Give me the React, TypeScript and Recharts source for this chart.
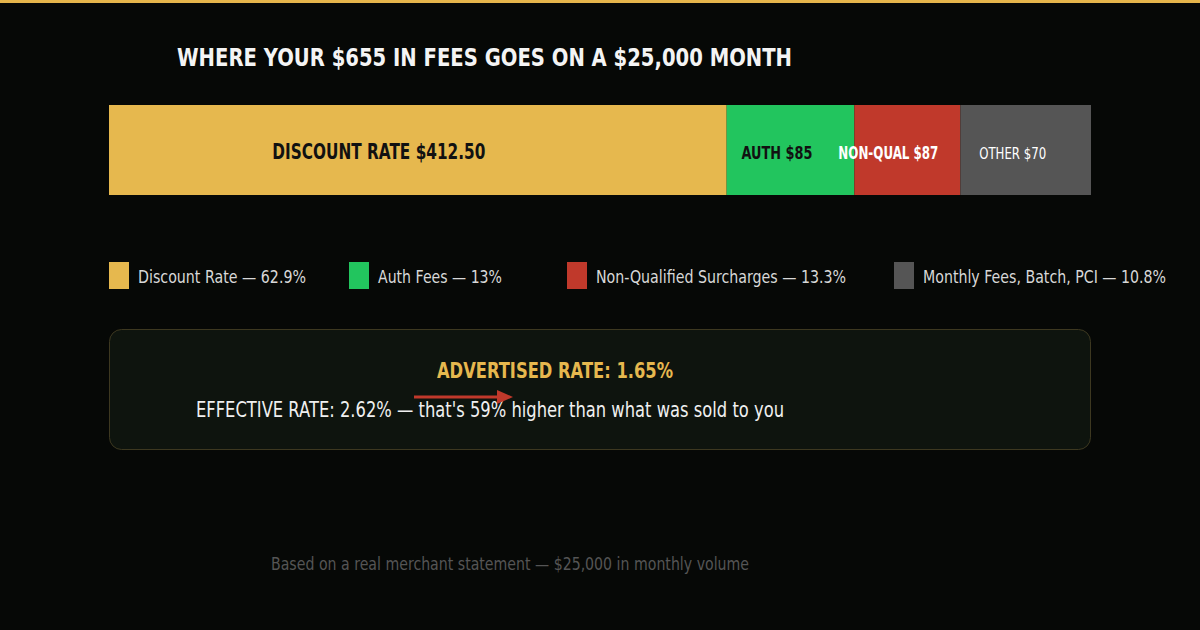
import { BarChart, Bar, XAxis, YAxis, LabelList } from 'recharts';

// fee breakdown, $ on a $25,000 month
const segments = ['discount', 'auth', 'nonQual', 'other'];
const segmentLabels = ['DISCOUNT RATE $412.50', 'AUTH $85', 'NON-QUAL $87', 'OTHER $70'];
// share of the bar each segment takes (percent)
const segmentShares = [62.9, 13, 10.8, 13.3];
const legendNames = [
  'Discount Rate — 62.9%',
  'Auth Fees — 13%',
  'Non-Qualified Surcharges — 13.3%',
  'Monthly Fees, Batch, PCI — 10.8%',
];

const COLORS = ['#e6b84e', '#22c55e', '#c0392b', '#555555'];
// no condensed face installed, so each text gets squeezed to its measured length
const LABEL_STYLE = [
  { fill: '#111', fontSize: 20.5, fontWeight: 700, dx: -39, len: 213 },
  { fill: '#111', fontSize: 18, fontWeight: 700, dx: -13.5, len: 71 },
  { fill: '#fff', fontSize: 17, fontWeight: 700, dx: -19, len: 100 },
  { fill: '#fff', fontSize: 16.5, fontWeight: 400, dx: -13, len: 67 },
];
const LEGEND_X = [109, 349, 567, 894];
const LEGEND_LEN = [168, 124, 250, 243];
const FONT = '"DejaVu Sans", sans-serif';

const row: Record<string, string | number> = { name: 'fees' };
segments.forEach((k, i) => {
  row[k] = segmentShares[i];
});
const chartData = [row];

function segmentLabel(i: number) {
  return (props: any) => {
    const { x, width } = props;
    const s = LABEL_STYLE[i];
    const cx = Number(x) + Number(width) / 2 + s.dx;
    return (
      <text
        x={cx - s.len / 2}
        y={159}
        textLength={s.len}
        lengthAdjust="spacingAndGlyphs"
        fill={s.fill}
        fontSize={s.fontSize}
        fontWeight={s.fontWeight}
        fontFamily={FONT}
      >
        {segmentLabels[i]}
      </text>
    );
  };
}

function T({ x, y, len, size, fill, bold, children }: any) {
  return (
    <text
      x={x}
      y={y}
      textLength={len}
      lengthAdjust="spacingAndGlyphs"
      fontSize={size}
      fill={fill}
      fontWeight={bold ? 700 : 400}
      fontFamily={FONT}
    >
      {children}
    </text>
  );
}

export default function App() {
  return (
    <div
      style={{
        position: 'absolute',
        left: 0,
        top: 0,
        width: 1200,
        height: 630,
        background: '#060806',
        overflow: 'hidden',
      }}
    >
      <div style={{ position: 'absolute', left: 0, top: 0 }}>
        <BarChart
          width={1200}
          height={300}
          data={chartData}
          layout="vertical"
          margin={{ top: 105, bottom: 105, left: 109, right: 109 }}
          barCategoryGap={0}
        >
          <XAxis type="number" domain={[0, 100]} hide />
          <YAxis type="category" dataKey="name" hide />
          {segments.map((k, i) => (
            <Bar key={k} dataKey={k} stackId="fees" fill={COLORS[i]} isAnimationActive={false}>
              <LabelList dataKey={k} content={segmentLabel(i)} />
            </Bar>
          ))}
        </BarChart>
      </div>

      <svg style={{ position: 'absolute', left: 0, top: 0 }} width={1200} height={630}>
        <rect x={0} y={0} width={1200} height={3} fill="#e5b54b" />
        <T x={177} y={66} len={615} size={25} fill="#f4f4f4" bold>
          WHERE YOUR $655 IN FEES GOES ON A $25,000 MONTH
        </T>

        {legendNames.map((n, i) => (
          <g key={n}>
            <rect x={LEGEND_X[i]} y={262} width={20} height={27} fill={COLORS[i]} />
            <T x={LEGEND_X[i] + 29} y={283} len={LEGEND_LEN[i]} size={18} fill="#d8d8d8">
              {n}
            </T>
          </g>
        ))}

        <rect x={109.5} y={329.5} width={981} height={120} rx={12} fill="#0e140e" stroke="#3d3820" />
        <T x={437} y={378} len={236} size={22} fill="#e6b84e" bold>
          ADVERTISED RATE: 1.65%
        </T>
        <T x={196} y={417} len={588} size={22} fill="#f0f0f0">
          EFFECTIVE RATE: 2.62% — that's 59% higher than what was sold to you
        </T>
        <line x1={414} y1={397} x2={499} y2={397} stroke="#c0392b" strokeWidth={3} />
        <polygon points="497,390 513,397 497,404" fill="#c0392b" />

        <T x={271} y={570} len={478} size={18.5} fill="#555">
          Based on a real merchant statement — $25,000 in monthly volume
        </T>
      </svg>
    </div>
  );
}
